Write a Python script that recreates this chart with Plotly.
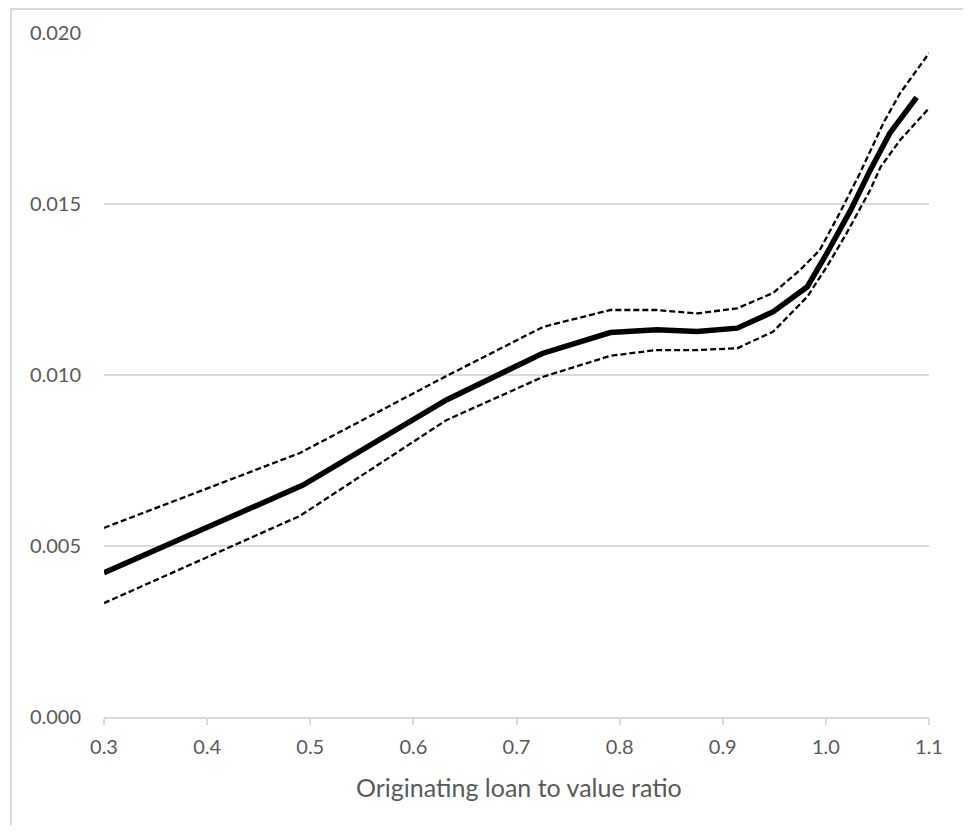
import plotly.graph_objects as go

# Main estimate
x_main = [0.300, 0.493, 0.632, 0.725, 0.791, 0.836, 0.875, 0.914, 0.949, 0.982, 1.001, 1.024, 1.043, 1.062, 1.088]
y_main = [0.00422, 0.00678, 0.00927, 0.01063, 0.01124, 0.01132, 0.01127, 0.01137, 0.01185, 0.01258, 0.01356, 0.01482, 0.01599, 0.01707, 0.01812]

# Upper confidence band
x_upper = [0.300, 0.490, 0.632, 0.726, 0.791, 0.836, 0.875, 0.914, 0.949, 0.975, 0.994, 1.014, 1.033, 1.056, 1.072, 1.100]
y_upper = [0.00553, 0.00772, 0.00997, 0.01141, 0.01190, 0.01190, 0.01180, 0.01195, 0.01240, 0.01307, 0.01365, 0.01477, 0.01590, 0.01738, 0.01824, 0.01941]

# Lower confidence band
x_lower = [0.300, 0.490, 0.632, 0.726, 0.791, 0.836, 0.875, 0.914, 0.949, 0.982, 1.001, 1.020, 1.043, 1.053, 1.072, 1.100]
y_lower = [0.00333, 0.00588, 0.00868, 0.00995, 0.01056, 0.01073, 0.01073, 0.01078, 0.01127, 0.01229, 0.01317, 0.01414, 0.01541, 0.01608, 0.01687, 0.01780]

x_ticks = [0.3, 0.4, 0.5, 0.6, 0.7, 0.8, 0.9, 1.0, 1.1]
y_ticks = [0.000, 0.005, 0.010, 0.015, 0.020]
x_title = "Originating loan to value ratio"

FONT = "Lato"
GRAY = "#595959"
GRID = "#d9d9d9"

# page has an 8px body margin; figure sized/margined so plot area lands at
# page x 104..929, y 33..717
W, H = 963, 817
ML, MR, MT, MB = 96, 42, 25, 108
PW = W - ML - MR
PH = H - MT - MB


def px_x(fx):
    return (fx - ML) / PW


def px_y(fy):
    return (H - MB - fy) / PH


fig = go.Figure()
fig.add_trace(go.Scatter(x=x_upper, y=y_upper, mode="lines",
                         line=dict(color="black", width=2.3, dash="6px,3px"),
                         showlegend=False, hoverinfo="skip"))
fig.add_trace(go.Scatter(x=x_lower, y=y_lower, mode="lines",
                         line=dict(color="black", width=2.3, dash="6px,3px"),
                         showlegend=False, hoverinfo="skip"))
fig.add_trace(go.Scatter(x=x_main, y=y_main, mode="lines",
                         line=dict(color="black", width=5.5),
                         showlegend=False))

fig.update_layout(
    width=W, height=H,
    margin=dict(l=ML, r=MR, t=MT, b=MB, pad=0),
    paper_bgcolor="white", plot_bgcolor="white",
    font=dict(family=FONT, size=20, color=GRAY),
    xaxis=dict(range=[0.3, 1.1], tickvals=x_ticks, ticktext=[f"{v:.1f}" for v in x_ticks],
               showgrid=False, zeroline=False, showline=True, linecolor=GRID, linewidth=2,
               ticks="outside", ticklen=6, tickcolor=GRID, tickwidth=2,
               ticklabelstandoff=5, tickfont=dict(family=FONT, size=20, color=GRAY)),
    yaxis=dict(range=[0, 0.02], tickvals=y_ticks, ticktext=[f"{v:.3f}" for v in y_ticks],
               showgrid=True, gridcolor=GRID, gridwidth=2, zeroline=False, showline=False,
               ticks="", ticklabelstandoff=22, tickfont=dict(family=FONT, size=20, color=GRAY)),
    annotations=[dict(text=x_title, xref="paper", yref="paper", x=0.503, y=px_y(787 - 8),
                      xanchor="center", yanchor="middle", showarrow=False,
                      font=dict(family=FONT, size=25, color=GRAY))],
    shapes=[dict(type="rect", xref="paper", yref="paper",
                 x0=px_x(11 - 8), x1=px_x(W + 10),
                 y0=px_y(H + 10), y1=px_y(1),
                 line=dict(color=GRID, width=2), layer="below")],
)

fig.write_html("out.html")
